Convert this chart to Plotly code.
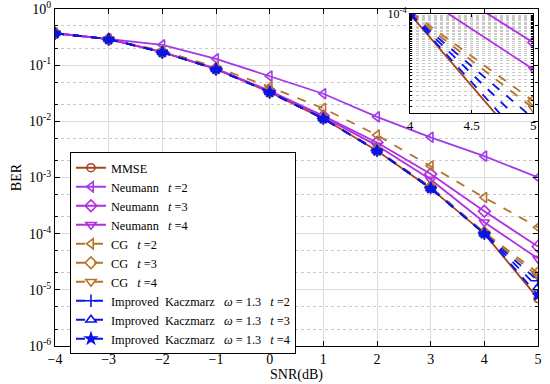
import plotly.graph_objects as go

snr = [-4, -3, -2, -1, 0, 1, 2, 3, 4, 5]

ber_mmse   = [0.37, 0.29, 0.17, 0.085, 0.033, 0.0112, 0.0030, 0.00064, 1.0e-4, 7.0e-6]
ber_neu2   = [0.37, 0.29, 0.23, 0.13, 0.064, 0.031, 0.012, 0.0052, 0.0024, 1.0e-3]
ber_neu3   = [0.37, 0.29, 0.17, 0.087, 0.035, 0.0125, 0.0042, 0.00115, 2.5e-4, 5.9e-5]
ber_neu4   = [0.37, 0.29, 0.17, 0.086, 0.034, 0.0120, 0.0037, 0.00092, 1.6e-4, 3.6e-5]
ber_cg2    = [0.37, 0.29, 0.18, 0.092, 0.041, 0.017, 0.0057, 0.0016, 4.4e-4, 1.3e-4]
ber_cg3    = [0.37, 0.29, 0.17, 0.085, 0.033, 0.0113, 0.0031, 0.00068, 1.05e-4, 2.0e-5]
ber_cg4    = [0.37, 0.29, 0.17, 0.085, 0.033, 0.0112, 0.0030, 0.00066, 1.02e-4, 1.75e-5]
ber_kac2   = [0.37, 0.29, 0.17, 0.085, 0.033, 0.0112, 0.0030, 0.00065, 1.0e-4, 1.45e-5]
ber_kac3   = [0.37, 0.29, 0.17, 0.085, 0.033, 0.0112, 0.0030, 0.00064, 1.0e-4, 1.1e-5]
ber_kac4   = [0.37, 0.29, 0.17, 0.085, 0.033, 0.0112, 0.0030, 0.00064, 1.0e-4, 8.0e-6]

names = ["MMSE",
         "Neumann   <i>t</i> =2", "Neumann   <i>t</i> =3", "Neumann   <i>t</i> =4",
         "CG   <i>t</i> =2", "CG   <i>t</i> =3", "CG   <i>t</i> =4",
         "Improved  Kaczmarz   <i>ω</i> = 1.3   <i>t</i> =2",
         "Improved  Kaczmarz   <i>ω</i> = 1.3   <i>t</i> =3",
         "Improved  Kaczmarz   <i>ω</i> = 1.3   <i>t</i> =4"]
series = [ber_mmse, ber_neu2, ber_neu3, ber_neu4, ber_cg2, ber_cg3, ber_cg4,
          ber_kac2, ber_kac3, ber_kac4]

y_tickvals = [1e0, 1e-1, 1e-2, 1e-3, 1e-4, 1e-5, 1e-6]
y_ticktext = ["10<sup>0</sup>", "10<sup>-1</sup>", "10<sup>-2</sup>", "10<sup>-3</sup>",
              "10<sup>-4</sup>", "10<sup>-5</sup>", "10<sup>-6</sup>"]
x_tickvals = [-4, -3, -2, -1, 0, 1, 2, 3, 4, 5]
inset_xticks = [4, 4.5, 5]
inset_xtext = ["4", "4.5", "5"]

C_MMSE = "#A8441C"
C_NEU2 = "#A03BE8"
C_NEU = "#B22FDF"
C_CG = "#B5732C"
C_KAC = "#0A14E8"

styles = [
    dict(color=C_MMSE, dash="solid", symbol="circle-open", size=8),
    dict(color=C_NEU2, dash="solid", symbol="triangle-left-open", size=9),
    dict(color=C_NEU, dash="solid", symbol="diamond-open", size=9),
    dict(color=C_NEU, dash="solid", symbol="triangle-down-open", size=9),
    dict(color=C_CG, dash="dash", symbol="triangle-left-open", size=9),
    dict(color=C_CG, dash="dash", symbol="diamond-open", size=9),
    dict(color=C_CG, dash="dash", symbol="triangle-down-open", size=9),
    dict(color=C_KAC, dash="dash", symbol="cross-thin-open", size=9),
    dict(color=C_KAC, dash="dash", symbol="triangle-up-open", size=9),
    dict(color=C_KAC, dash="dash", symbol="star", size=8),
]

fig = go.Figure()
for nm, ys, st in zip(names, series, styles):
    fig.add_trace(go.Scatter(
        x=snr, y=ys, name=nm, mode="lines+markers",
        line=dict(color=st["color"], dash=st["dash"], width=1.8),
        marker=dict(symbol=st["symbol"], size=st["size"], color=st["color"],
                    line=dict(color=st["color"], width=1.6)),
        xaxis="x", yaxis="y"))
# inset copies
for nm, ys, st in zip(names, series, styles):
    fig.add_trace(go.Scatter(
        x=snr, y=ys, name=nm, mode="lines+markers", showlegend=False,
        line=dict(color=st["color"], dash=st["dash"], width=1.8),
        marker=dict(symbol=st["symbol"], size=st["size"] - 1, color=st["color"],
                    line=dict(color=st["color"], width=1.6)),
        xaxis="x2", yaxis="y2"))

font = "Liberation Serif, Times New Roman, serif"
fig.update_layout(
    width=550, height=384,
    margin=dict(l=55, r=12, t=9, b=38, autoexpand=False),
    paper_bgcolor="white", plot_bgcolor="white",
    font=dict(family=font, size=14, color="black"),
    showlegend=True,
    legend=dict(x=0.031, y=0.575, xanchor="left", yanchor="top",
                bgcolor="white", bordercolor="black", borderwidth=1,
                font=dict(family=font, size=12.3), tracegroupgap=0,
                itemwidth=30),
    xaxis=dict(domain=[0, 1], range=[-4, 5], tickvals=x_tickvals,
               showline=True, linecolor="black", linewidth=1, mirror="allticks",
               ticks="inside", ticklen=5, tickcolor="black",
               showgrid=True, gridcolor="#DCDCDC", gridwidth=1, zeroline=False,
               title=dict(text="SNR(dB)", standoff=2, font=dict(size=14)),
               ticklabeloverflow="allow", automargin=False, anchor="y"),
    yaxis=dict(domain=[0, 1], type="log", range=[-6, 0],
               tickvals=y_tickvals, ticktext=y_ticktext,
               showline=True, linecolor="black", linewidth=1, mirror="allticks",
               ticks="inside", ticklen=5, tickcolor="black",
               showgrid=True, gridcolor="#DCDCDC", gridwidth=1, zeroline=False,
               minor=dict(ticks="inside", ticklen=3, tickcolor="black",
                          showgrid=True, gridcolor="#C8C8C8", griddash="dot"),
               title=dict(text="BER", standoff=4, font=dict(size=14)),
               ticklabeloverflow="allow", automargin=False, anchor="x"),
    xaxis2=dict(domain=[0.735, 0.99], range=[4, 5], tickvals=inset_xticks,
                ticktext=inset_xtext,
                showline=True, linecolor="black", linewidth=1, mirror="allticks",
                ticks="inside", ticklen=3, tickcolor="black",
                showgrid=True, gridcolor="#DCDCDC", zeroline=False,
                ticklabeloverflow="allow", automargin=False, anchor="y2",
                tickfont=dict(size=13)),
    yaxis2=dict(domain=[0.69, 0.985], type="log", range=[-4.8, -4],
                tickvals=[1e-4], ticktext=["10<sup>-4</sup>"],
                showline=True, linecolor="black", linewidth=1, mirror="allticks",
                ticks="inside", ticklen=3, tickcolor="black",
                showgrid=True, gridcolor="#DCDCDC", zeroline=False,
                minor=dict(ticks="inside", ticklen=2, tickcolor="black",
                           showgrid=True, gridcolor="#C8C8C8", griddash="dot"),
                ticklabeloverflow="allow", automargin=False, anchor="x2",
                tickfont=dict(size=12)),
)

fig.write_html("out.html", config={"displayModeBar": False},
               post_script="document.body.style.margin='0px';document.body.style.overflow='hidden';")
